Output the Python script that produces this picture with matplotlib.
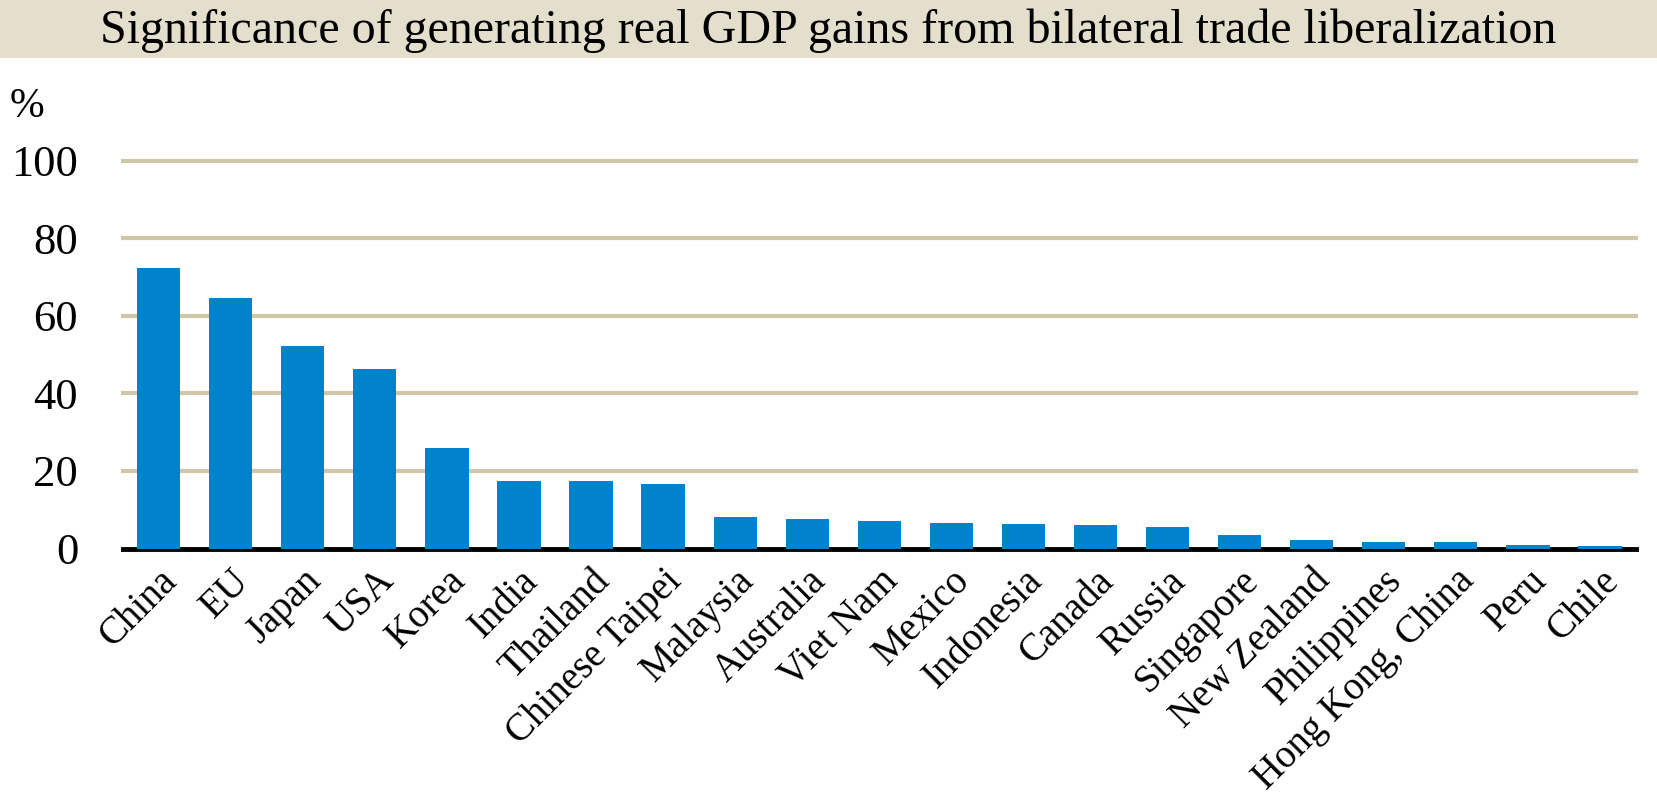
import matplotlib

matplotlib.use("Agg")

import matplotlib.pyplot as plt
import numpy as np
from matplotlib.patches import Rectangle

plt.rcParams["font.family"] = ["Liberation Serif", "DejaVu Serif"]

TITLE = "Significance of generating real GDP gains from bilateral trade liberalization"

economies = [
    "China", "EU", "Japan", "USA", "Korea", "India", "Thailand",
    "Chinese Taipei", "Malaysia", "Australia", "Viet Nam", "Mexico",
    "Indonesia", "Canada", "Russia", "Singapore", "New Zealand",
    "Philippines", "Hong Kong, China", "Peru", "Chile",
]
gdp_share = [
    72.4, 64.7, 52.3, 46.2, 25.8, 17.5, 17.5,
    16.6, 8.2, 7.5, 7.2, 6.6,
    6.4, 6.1, 5.5, 3.4, 2.3,
    1.8, 1.8, 0.9, 0.6,
]
y_ticks = [0, 20, 40, 60, 80, 100]

W, H = 1657, 794
fig = plt.figure(figsize=(W / 100, H / 100), dpi=100)

# title band
band_h = 58 / H
fig.patches.append(Rectangle((0, 1 - band_h), 1, band_h, transform=fig.transFigure,
                             facecolor="#E3DFCC", edgecolor="none", zorder=0))
fig.text(0.5, 1 - band_h / 2 - 0.002, TITLE, ha="center", va="center", fontsize=34.6)

left, right = 122.6 / W, 1636 / W
bottom, top = 1 - 548.5 / H, 1 - 160.6 / H
ax = fig.add_axes([left, bottom, right - left, top - bottom])

x = np.arange(len(economies))
ax.bar(x, gdp_share, width=0.6, color="#0083CB", zorder=3)

ax.set_xlim(-0.5, len(economies) - 0.5)
ax.set_ylim(0, 100)
ax.set_yticks(y_ticks)
ax.set_yticklabels([str(v) for v in y_ticks], fontsize=32)
for v in y_ticks[1:]:
    ax.axhline(v, color="#CFC8A8", linewidth=3.0, zorder=1, clip_on=False)
ax.axhline(0, color="black", linewidth=3.5, zorder=2, clip_on=False)

ax.set_xticks(x)
ax.set_xticklabels(economies, rotation=45, ha="right", rotation_mode="anchor", fontsize=28)
ax.tick_params(axis="both", length=0)
ax.tick_params(axis="y", pad=32)
ax.tick_params(axis="x", pad=10)
for side in ["top", "right", "left", "bottom"]:
    ax.spines[side].set_visible(False)

fig.text(27 / W, 1 - 107 / H, "%", ha="center", va="center", fontsize=30)

fig.savefig("out.png", dpi=100)
